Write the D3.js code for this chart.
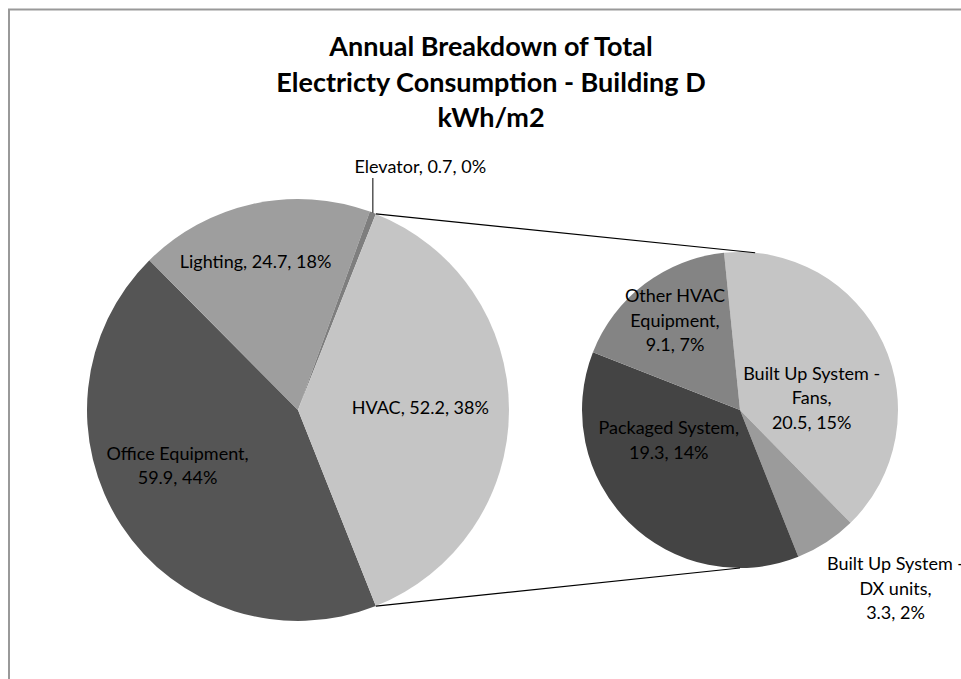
<!DOCTYPE html>
<html>
<head>
<meta charset="utf-8">
<script src="https://cdn.jsdelivr.net/npm/d3@7"></script>
<style>
  body { margin: 0; background: #fff; }
  text { font-family: Lato, "Open Sans", sans-serif; fill: #000; }
</style>
</head>
<body>
<svg width="961" height="679"></svg>
<script>
// main pie
var mainNames = ["Office Equipment", "Lighting", "Elevator", "HVAC"];
var mainValues = [59.9, 24.7, 0.66, 52.2];
var mainColors = ["#555555", "#9e9e9e", "#7e7e7e", "#c5c5c5"];

// HVAC split into the second pie
var subNames = ["Built Up System - Fans", "Built Up System - DX units", "Packaged System", "Other HVAC Equipment"];
var subValues = [20.5, 3.3, 19.3, 9.1];
var subColors = ["#c5c5c5", "#9b9b9b", "#444444", "#848484"];

var titleLines = ["Annual Breakdown of Total", "Electricty Consumption - Building D", "kWh/m2"];

// label text lines (last line is "value, pct")
var mainLabelLines = [["Office Equipment,"], [], [], []];
var subLabelLines = [["Built Up System -", "Fans,"], ["Built Up System -", "DX units,"], ["Packaged System,"], ["Other HVAC", "Equipment,"]];

var svg = d3.select("svg");
var total = d3.sum(mainValues);
var rad = Math.PI / 180;
var fmt = d3.format(".1f");

// outer chart border
svg.append("path")
  .attr("d", "M9,679 V9.5 H961")
  .attr("fill", "none").attr("stroke", "#999").attr("stroke-width", 2);

var title = svg.append("text")
  .attr("x", 491).attr("y", 56)
  .attr("text-anchor", "middle")
  .style("font-weight", "bold").style("font-size", "27px");
titleLines.forEach(function(t, i) {
  title.append("tspan").attr("x", 491).attr("dy", i ? 35.5 : 0).text(t);
});

var pct = function(v) { return Math.round(v / total * 100) + "%"; };

// main pie, HVAC centred on the right
var mc = [298, 410], mr = 211;
var hvacAngle = mainValues[3] / total * 2 * Math.PI;
var mainStart = Math.PI / 2 + hvacAngle / 2;
var mainPie = d3.pie().sort(null).startAngle(mainStart).endAngle(mainStart + 2 * Math.PI);
var mainArcs = mainPie(mainValues);
var mainArc = d3.arc().innerRadius(0).outerRadius(mr);

var gm = svg.append("g").attr("transform", "translate(" + mc + ")");
gm.selectAll("path").data(mainArcs).enter().append("path")
  .attr("d", mainArc)
  .attr("fill", function(d, i) { return mainColors[i]; });

// second pie
var sc = [740, 410], sr = 158;
var subStart = -5.8 * rad;
var subPie = d3.pie().sort(null).startAngle(subStart).endAngle(subStart + 2 * Math.PI);
var subArcs = subPie(subValues);
var subArc = d3.arc().innerRadius(0).outerRadius(sr);

var gs = svg.append("g").attr("transform", "translate(" + sc + ")");
gs.selectAll("path").data(subArcs).enter().append("path")
  .attr("d", subArc)
  .attr("fill", function(d, i) { return subColors[i]; });

function polar(c, r, a) { return [c[0] + r * Math.sin(a), c[1] - r * Math.cos(a)]; }

// connector lines
var hv = mainArcs[3];
var p1 = polar(mc, mr, hv.startAngle), p2 = polar(sc, sr, 5.5 * rad);
var p3 = polar(mc, mr, hv.endAngle), p4 = polar(sc, sr, 180 * rad);
svg.append("line").attr("x1", p1[0]).attr("y1", p1[1]).attr("x2", p2[0]).attr("y2", p2[1])
  .attr("stroke", "#000").attr("stroke-width", 1.2);
svg.append("line").attr("x1", p3[0]).attr("y1", p3[1]).attr("x2", p4[0]).attr("y2", p4[1])
  .attr("stroke", "#000").attr("stroke-width", 1.2);

// labels: placed by angle + radius relative to each pie centre
var mainLabelPos = [{a: 245, r: 0.63}, {a: 344, r: 0.73}, {a: 26.7, r: 1.29}, {a: 89, r: 0.58}];
var subLabelPos = [{a: 80.5, r: 0.46}, {a: 139, r: 1.5}, {a: 247, r: 0.49}, {a: 324, r: 0.70}];

function drawLabel(c, r, pos, lines, value, name, oneLine) {
  var p = polar(c, r * pos.r, pos.a * rad);
  var last = fmt(value) + ", " + pct(value);
  var all = oneLine ? [name + ", " + last] : lines.concat([last]);
  var lh = 24.5;
  var t = svg.append("text").attr("text-anchor", "middle").style("font-size", "18px");
  all.forEach(function(s, i) {
    t.append("tspan").attr("x", p[0]).attr("y", p[1] - (all.length - 1) * lh / 2 + i * lh + 6).text(s);
  });
}

mainValues.forEach(function(v, i) {
  drawLabel(mc, mr, mainLabelPos[i], mainLabelLines[i], v, mainNames[i], mainLabelLines[i].length === 0);
});
subValues.forEach(function(v, i) {
  drawLabel(sc, sr, subLabelPos[i], subLabelLines[i], v, subNames[i], false);
});

// elevator leader line
var ea = (mainArcs[2].startAngle + mainArcs[2].endAngle) / 2;
var e1 = polar(mc, mr, ea);
svg.append("line").attr("x1", e1[0]).attr("y1", e1[1]).attr("x2", e1[0]).attr("y2", 178)
  .attr("stroke", "#000").attr("stroke-width", 1);
</script>
</body>
</html>
